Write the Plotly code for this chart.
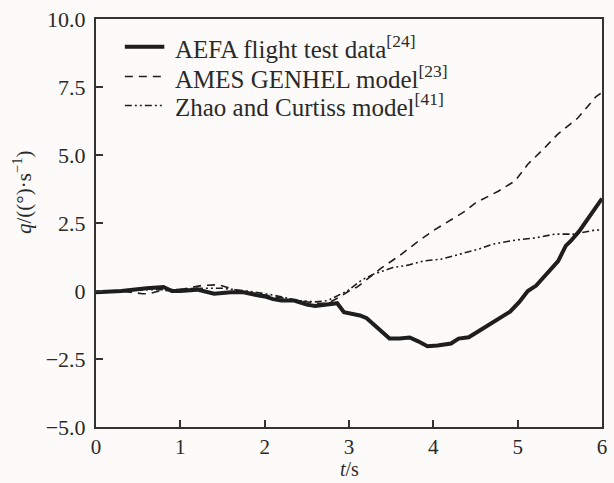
import plotly.graph_objects as go

# Pitch-rate response q (deg/s) against time t (s)
t_aefa = [0, 0.3, 0.6, 0.8, 0.9, 1.0, 1.2, 1.4, 1.6, 1.75, 1.9, 2.0, 2.1, 2.2, 2.35, 2.5, 2.6, 2.75,
          2.86, 2.94, 3.05, 3.13, 3.21, 3.35, 3.48, 3.6, 3.72, 3.82, 3.93, 4.05, 4.21, 4.30, 4.42,
          4.55, 4.70, 4.91, 5.02, 5.12, 5.22, 5.35, 5.48, 5.57, 5.63, 5.73, 5.79, 5.88, 6.0]
q_aefa = [-0.05, 0.0, 0.1, 0.15, 0.0, 0.0, 0.05, -0.1, -0.05, -0.05, -0.15, -0.2, -0.3, -0.35, -0.35,
          -0.5, -0.55, -0.5, -0.45, -0.78, -0.85, -0.9, -1.0, -1.4, -1.75, -1.75, -1.71, -1.85, -2.03,
          -2.0, -1.93, -1.75, -1.7, -1.45, -1.18, -0.76, -0.4, 0.0, 0.2, 0.65, 1.1, 1.66, 1.84, 2.2,
          2.46, 2.9, 3.4]

t_ames = [0, 0.3, 0.55, 0.63, 0.75, 1.0, 1.25, 1.45, 1.7, 2.0, 2.3, 2.6, 2.75, 2.9, 3.0, 3.1, 3.2,
          3.39, 3.6, 3.8, 3.99, 4.2, 4.38, 4.5, 4.77, 4.97, 5.12, 5.3, 5.47, 5.71, 5.93, 6.0]
q_ames = [-0.05, 0.0, -0.1, -0.1, 0.0, 0.05, 0.2, 0.23, 0.0, -0.15, -0.3, -0.45, -0.45, -0.2, 0.0,
          0.15, 0.4, 0.86, 1.3, 1.78, 2.2, 2.6, 2.94, 3.24, 3.67, 4.05, 4.66, 5.2, 5.75, 6.35, 7.15, 7.3]

t_zhao = [0, 0.3, 0.6, 0.9, 1.2, 1.5, 1.8, 2.1, 2.4, 2.6, 2.74, 2.98, 3.15, 3.29, 3.52, 3.7, 3.88,
          4.09, 4.38, 4.55, 4.70, 4.97, 5.2, 5.44, 5.67, 5.9, 6.0]
q_zhao = [-0.05, 0.0, 0.05, 0.05, 0.1, 0.1, 0.0, -0.15, -0.35, -0.4, -0.36, 0.0, 0.4, 0.62, 0.86,
          0.95, 1.1, 1.17, 1.41, 1.55, 1.72, 1.87, 1.95, 2.09, 2.09, 2.23, 2.25]

x_ticks = [0, 1, 2, 3, 4, 5, 6]
x_ticktext = ["0", "1", "2", "3", "4", "5", "6"]
y_ticks = [10, 7.5, 5, 2.5, 0, -2.5, -5]
y_ticktext = ["10.0", "7.5", "5.0", "2.5", "0", "\u22122.5", "\u22125.0"]

names = [
    "AEFA flight test data<sup>[24]</sup>",
    "AMES GENHEL model<sup>[23]</sup>",
    "Zhao and Curtiss model<sup>[41]</sup>",
]

INK = "#1e1e1e"
AXIS = "#333333"
TXT = "#2a2a2a"
BG = "#fdfbfa"
SERIF = "Liberation Serif, Times New Roman, serif"

styles = [
    dict(color=INK, width=4),
    dict(color=INK, width=1.6, dash="8px,6px"),
    dict(color=INK, width=1.6, dash="7px,3px,2px,3px,2px,3px"),
]

fig = go.Figure()
for tx, qy, nm, st in zip([t_aefa, t_ames, t_zhao], [q_aefa, q_ames, q_zhao], names, styles):
    fig.add_trace(go.Scatter(x=tx, y=qy, mode="lines", name=nm, line=st, showlegend=False))

# Key drawn in the upper-left corner of the plot frame
key_rows = [0.932, 0.859, 0.788]
for nm, st, yk in zip(names, styles, key_rows):
    fig.add_shape(type="line", xref="paper", yref="paper", x0=0.057, x1=0.135, y0=yk, y1=yk,
                  line=st)
    fig.add_annotation(text=nm, xref="paper", yref="paper", x=0.152, y=yk,
                       xanchor="left", yanchor="middle", showarrow=False,
                       font=dict(family=SERIF, size=25, color=TXT))

axis_common = dict(
    showline=True, linecolor=AXIS, linewidth=2, mirror=True,
    ticks="inside", ticklen=7, tickwidth=1.5, tickcolor=AXIS,
    showgrid=False, zeroline=False,
)

fig.update_xaxes(range=[0, 6], tickvals=x_ticks, ticktext=x_ticktext,
                 tickfont=dict(family=SERIF, size=21, color=TXT), **axis_common)
fig.update_yaxes(range=[-5, 10], tickvals=y_ticks, ticktext=y_ticktext,
                 tickfont=dict(family=SERIF, size=22, color=TXT),
                 ticklabelstandoff=4, **axis_common)

fig.add_annotation(text="<i>t</i>/s", xref="paper", yref="paper", x=0.5, y=-0.104,
                   yanchor="middle", showarrow=False,
                   font=dict(family=SERIF, size=20, color=TXT))
fig.add_annotation(text="<i>q</i>/((\u00b0)\u00b7s<sup>\u22121</sup>)", xref="paper", yref="paper",
                   x=-0.145, y=0.575, textangle=-90, showarrow=False,
                   xanchor="center", yanchor="middle",
                   font=dict(family=SERIF, size=21, color=TXT))

fig.update_layout(
    width=614, height=483,
    margin=dict(l=96, r=7, t=17, b=56),
    paper_bgcolor=BG, plot_bgcolor=BG,
    showlegend=False,
)

fig.write_html("out.html")
